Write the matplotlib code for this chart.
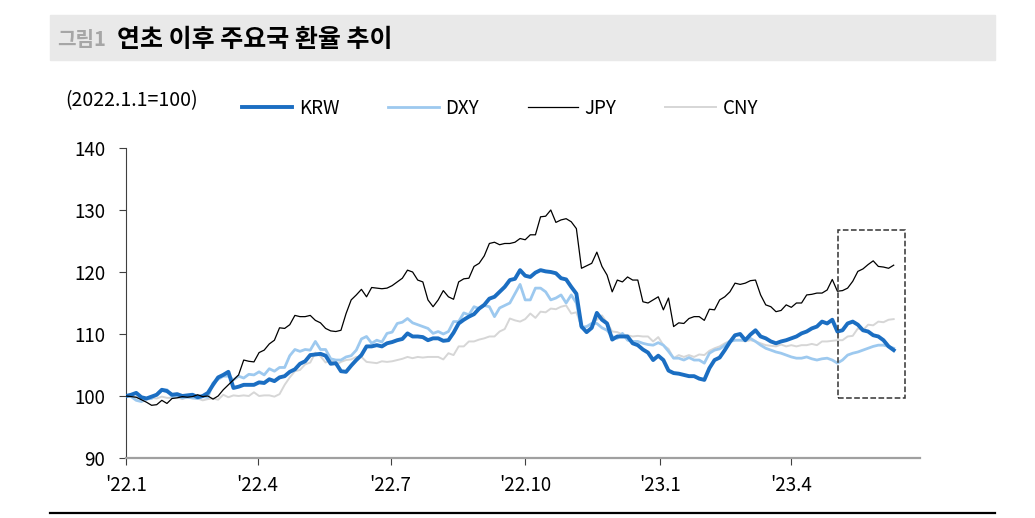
import matplotlib.pyplot as plt
import matplotlib.patches as patches
import numpy as np

plt.rcParams['font.family'] = ['Noto Sans CJK KR', 'DejaVu Sans']

# observations every 3.5 days from 2022-01-01, index 2022.1.1 = 100
start = np.datetime64('2022-01-01T00', 'h')
n_obs = 151
dates = start + np.arange(n_obs) * np.timedelta64(84, 'h')

krw = [100.0, 100.2, 100.5, 99.8, 99.6, 99.9, 100.2, 101.0, 100.8, 100.2,
       100.3, 100.0, 100.1, 100.2, 99.8, 100.0, 100.5, 101.8, 103.0, 103.4,
       103.9, 101.3, 101.5, 101.8, 101.8, 101.8, 102.2, 102.1, 102.7, 102.4,
       103.0, 103.2, 103.9, 104.3, 105.2, 105.6, 106.6, 106.7, 106.8, 106.5,
       105.2, 105.3, 104.0, 103.9, 104.9, 105.8, 106.6, 108.0, 108.0, 108.2,
       108.0, 108.5, 108.7, 109.0, 109.2, 110.1, 109.6, 109.6, 109.5, 109.0,
       109.3, 109.3, 108.9, 109.0, 110.2, 111.7, 112.3, 112.8, 113.2, 114.1,
       114.7, 115.7, 116.0, 116.8, 117.6, 118.7, 118.9, 120.3, 119.4, 119.2,
       119.9, 120.3, 120.1, 120.0, 119.8, 119.0, 118.8, 117.6, 116.5, 111.2,
       110.3, 111.0, 113.4, 112.3, 111.7, 109.1, 109.6, 109.6, 109.6, 108.5,
       108.2, 107.5, 107.0, 105.8, 106.5, 105.8, 104.1, 103.7, 103.6, 103.4,
       103.2, 103.2, 102.8, 102.6, 104.5, 105.8, 106.2, 107.4, 108.7, 109.8,
       110.0, 109.0, 109.9, 110.6, 109.6, 109.3, 108.8, 108.5, 108.8, 109.0,
       109.3, 109.6, 110.1, 110.4, 110.9, 111.2, 112.0, 111.7, 112.3, 110.4,
       110.6, 111.7, 112.0, 111.5, 110.6, 110.4, 109.8, 109.6, 109.0, 108.0,
       107.4]

dxy = [100.0, 99.9, 99.3, 99.1, 99.5, 99.6, 100.3, 101.0, 101.0, 99.9,
       100.0, 99.7, 99.8, 99.7, 99.6, 99.9, 99.8, 102.1, 102.7, 103.2,
       103.2, 102.6, 103.2, 102.9, 103.5, 103.4, 103.9, 103.4, 104.4, 104.0,
       104.6, 104.6, 106.5, 107.5, 107.2, 107.5, 107.4, 108.8, 107.5, 107.5,
       106.0, 105.8, 105.8, 106.3, 106.5, 107.4, 109.2, 109.6, 108.5, 109.0,
       108.7, 110.1, 110.3, 111.7, 111.9, 112.5, 111.8, 111.5, 111.2, 110.9,
       110.1, 110.4, 110.0, 110.4, 112.0, 112.0, 113.4, 113.1, 114.4, 114.1,
       114.6, 114.4, 112.8, 114.2, 114.6, 115.0, 116.5, 118.0, 115.5, 115.5,
       117.4, 117.4, 116.8, 115.5, 115.8, 116.3, 115.0, 116.3, 115.0, 111.0,
       111.2, 111.7, 111.7, 111.0, 110.6, 109.6, 109.3, 110.1, 109.0, 108.8,
       108.8, 108.5, 108.3, 108.2, 108.6, 108.2, 107.2, 106.1, 106.1, 105.8,
       106.2, 105.8, 105.8, 105.3, 106.9, 107.4, 107.6, 108.2, 108.8, 109.0,
       109.0, 109.0, 109.3, 108.8, 108.2, 107.7, 107.4, 107.1, 106.9, 106.6,
       106.3, 106.1, 106.1, 106.3, 106.0, 105.8, 106.0, 106.1, 105.8, 105.3,
       105.8, 106.6, 106.9, 107.1, 107.4, 107.7, 108.0, 108.2, 108.2, 108.0,
       107.7]

jpy = [100.0, 99.9, 99.8, 99.4, 99.0, 98.5, 98.6, 99.3, 98.8, 99.6,
       99.7, 99.9, 99.8, 99.9, 100.2, 99.9, 100.0, 99.5, 100.0, 101.0,
       101.8, 102.6, 103.4, 105.8, 105.6, 105.5, 107.0, 107.4, 108.4, 109.0,
       111.0, 110.9, 111.5, 113.0, 112.8, 112.8, 113.0, 112.2, 111.8, 110.9,
       110.5, 110.4, 110.6, 113.3, 115.5, 116.3, 117.2, 116.0, 117.5, 117.4,
       117.3, 117.4, 117.8, 118.4, 119.0, 120.3, 120.0, 118.7, 118.4, 115.5,
       114.4, 115.5, 117.0, 116.0, 115.6, 118.4, 118.9, 119.0, 120.9, 121.4,
       122.6, 124.6, 124.8, 124.4, 124.6, 124.6, 124.8, 125.4, 125.2, 126.0,
       126.0, 128.9, 129.0, 130.0, 128.0, 128.4, 128.6, 128.1, 127.0, 120.6,
       121.0, 121.4, 123.2, 120.9, 119.5, 116.8, 118.7, 118.4, 119.2, 118.7,
       118.7, 115.2, 115.0, 115.5, 116.0, 113.9, 115.8, 111.2, 111.8, 111.7,
       112.5, 112.8, 112.8, 112.2, 114.0, 113.9, 115.5, 116.0, 116.8, 118.2,
       118.0, 118.2, 118.6, 118.7, 116.3, 114.7, 114.4, 113.6, 113.8, 114.7,
       114.3, 115.0, 115.0, 116.3, 116.4, 116.6, 116.6, 117.1, 118.8, 116.9,
       117.0, 117.4, 118.5, 120.1, 120.5, 121.2, 121.8, 120.9, 120.8, 120.6,
       121.1]

cny = [100.0, 99.9, 99.8, 99.6, 99.7, 99.7, 99.6, 99.9, 99.7, 99.7,
       99.8, 99.5, 99.8, 99.6, 99.6, 99.3, 99.5, 99.6, 99.4, 100.2,
       99.8, 100.1, 100.0, 100.1, 100.0, 100.6, 100.0, 100.1, 100.1, 99.9,
       100.3, 101.8, 103.0, 104.0, 104.2, 105.1, 105.4, 107.0, 106.4, 105.4,
       105.8, 105.0, 105.5, 105.8, 105.9, 106.3, 106.3, 105.5, 105.4, 105.3,
       105.6, 105.5, 105.6, 105.8, 106.0, 106.3, 106.1, 106.3, 106.2, 106.3,
       106.3, 106.3, 105.9, 106.9, 106.6, 108.0, 108.0, 108.8, 108.8, 109.1,
       109.3, 109.6, 109.6, 110.4, 110.8, 112.5, 112.2, 112.0, 112.4, 113.3,
       112.6, 113.6, 113.5, 114.1, 114.0, 114.4, 114.6, 113.3, 113.5, 111.2,
       111.2, 111.5, 112.3, 113.0, 111.8, 110.4, 110.3, 109.9, 109.8, 109.6,
       109.7, 109.6, 109.6, 108.8, 109.5, 108.2, 107.6, 106.1, 106.6, 106.3,
       106.6, 106.3, 106.7, 106.6, 107.3, 107.7, 108.0, 108.5, 108.9, 109.0,
       109.0, 108.8, 109.0, 108.8, 108.5, 108.2, 108.1, 108.0, 108.3, 108.0,
       108.2, 108.0, 108.2, 108.2, 108.4, 108.2, 108.8, 108.8, 108.9, 109.0,
       109.0, 109.6, 109.7, 110.9, 110.6, 111.5, 111.4, 112.0, 111.9, 112.3,
       112.4]

tick_dates = np.array(['2022-01-01', '2022-04-01', '2022-07-01', '2022-10-01',
                       '2023-01-01', '2023-04-01'], dtype='datetime64[D]')
tick_labels = ["'22.1", "'22.4", "'22.7", "'22.10", "'23.1", "'23.4"]
y_ticks = [90, 100, 110, 120, 130, 140]

# highlighted recent period
box_start = np.datetime64('2023-05-03')
box_end = np.datetime64('2023-06-18')
box_low, box_high = 99.7, 126.8

fig = plt.figure(figsize=(10.35, 5.18), dpi=100)

# title bar
fig.patches.append(patches.Rectangle((50 / 1035, 1 - 60 / 518), 945 / 1035, 45 / 518,
                                     transform=fig.transFigure, color='#e9e9e9', zorder=0))
fig.text(57 / 1035, 1 - 40 / 518, '그림1', fontsize=14.5, fontweight='bold',
         color='#a6a6a6', va='center')
fig.text(117 / 1035, 1 - 40 / 518, '연초 이후 주요국 환율 추이', fontsize=18,
         fontweight='bold', color='black', va='center')
fig.add_artist(plt.Line2D([50 / 1035, 995 / 1035], [1 - 513 / 518, 1 - 513 / 518],
                          transform=fig.transFigure, color='black', lw=1.6))

ax = fig.add_axes([126 / 1035, 1 - 458 / 518, 794 / 1035, 310 / 518])

l_cny, = ax.plot(dates, cny, color='#d6d6d6', lw=1.4, label='CNY', zorder=2)
l_dxy, = ax.plot(dates, dxy, color='#9dc9ef', lw=2.0, label='DXY', zorder=3)
l_krw, = ax.plot(dates, krw, color='#1b6ec2', lw=2.8, label='KRW', zorder=4)
l_jpy, = ax.plot(dates, jpy, color='black', lw=0.9, label='JPY', zorder=5)

box_x0 = box_start.astype(float)
box_w = (box_end - box_start).astype(float)
ax.add_patch(patches.Rectangle((box_x0, box_low), box_w, box_high - box_low,
                               fill=False, ls='--', lw=1.1, ec='#333333',
                               clip_on=False, zorder=6))

ax.set_ylim(90, 140)
ax.set_yticks(y_ticks)
ax.set_xlim(np.datetime64('2022-01-01'), np.datetime64('2023-06-28'))
ax.set_xticks(tick_dates)
ax.set_xticklabels(tick_labels)

for s in ['top', 'right']:
    ax.spines[s].set_visible(False)
ax.spines['left'].set_color('#404040')
ax.spines['left'].set_linewidth(0.8)
ax.spines['bottom'].set_color('#a0a0a0')
ax.spines['bottom'].set_linewidth(1.6)
ax.tick_params(axis='y', length=5, width=0.8, color='#404040', pad=10, labelsize=13.5)
ax.tick_params(axis='x', length=5, width=0.8, color='#404040', pad=7, labelsize=13.5)

fig.text(65 / 1035, 1 - 101 / 518, '(2022.1.1=100)', fontsize=14, va='center')
fig.legend([l_krw, l_dxy, l_jpy, l_cny], ['KRW', 'DXY', 'JPY', 'CNY'],
           loc='center left', bbox_to_anchor=(234 / 1035, 1 - 108 / 518), ncol=4,
           frameon=False, fontsize=13.5, handlelength=2.7, handletextpad=0.35,
           columnspacing=2.6, borderaxespad=0)

fig.savefig('out.png', dpi=100)
